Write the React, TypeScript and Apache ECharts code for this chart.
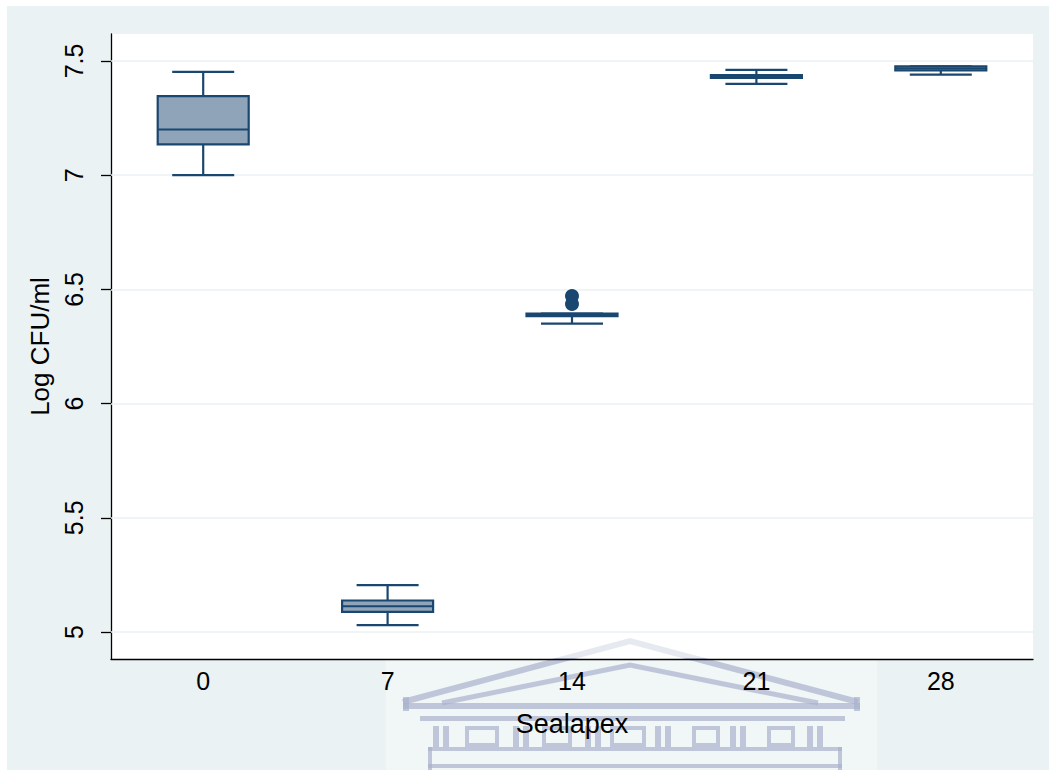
import React, { useEffect, useRef } from "react";
import * as echarts from "echarts";

const days = ["0", "7", "14", "21", "28"];
const lowerWhisker = [7.0, 5.03, 6.35, 7.4, 7.44];
const q1 = [7.135, 5.088, 6.3825, 7.4254, 7.4592];
const median = [7.2, 5.113, 6.388, 7.432, 7.468];
const q3 = [7.346, 5.138, 6.3939, 7.4386, 7.4768];
const upperWhisker = [7.452, 5.205, 6.3939, 7.461, 7.4768];
const outlierDay = ["14", "14"];
const outlierValue = [6.471, 6.436];
const yTicks = [5, 5.5, 6, 6.5, 7, 7.5];

const NAVY = "#1A476F";
const FILL = "#8FA4B8";
const BG = "#EAF2F3";
const WM = "#A9B2CC";
const FONT = "Liberation Sans, Arial, sans-serif";

export default function App() {
  const ref = useRef<HTMLDivElement>(null);
  useEffect(() => {
    if (!ref.current) return;
    const chart = echarts.init(ref.current, null, { renderer: "svg" });

    const boxData = days.map((d, i) => [i, lowerWhisker[i], q1[i], median[i], q3[i], upperWhisker[i]]);
    const outliers = outlierDay.map((d, i) => [days.indexOf(d), outlierValue[i]]);

    const OP = 0.7;
    const wmRect = (x: number, y: number, w: number, h: number) => ({
      type: "rect",
      z: -10,
      silent: true,
      shape: { x, y, width: w, height: h },
      style: { fill: WM, opacity: OP },
    });
    const wmBox = (x: number, y: number, w: number, h: number) => ({
      type: "rect",
      z: -10,
      silent: true,
      shape: { x, y, width: w, height: h },
      style: { fill: "none", stroke: WM, lineWidth: 4, opacity: OP },
    });
    const pairs = [433, 513, 585, 655, 730, 807];
    const boxes: [number, number][] = [
      [467, 30],
      [544, 26],
      [612, 32],
      [694, 24],
      [769, 24],
    ];
    const watermark: any[] = [
      {
        type: "rect",
        z: -11,
        silent: true,
        shape: { x: 386, y: 633, width: 491, height: 137 },
        style: { fill: "rgba(255,255,255,0.35)" },
      },
      {
        type: "polyline",
        z: -10,
        silent: true,
        shape: { points: [[403, 702], [630, 641], [858, 702]] },
        style: { stroke: WM, lineWidth: 6, fill: "none", opacity: OP },
      },
      {
        type: "polyline",
        z: -10,
        silent: true,
        shape: { points: [[442, 703], [630, 665], [818, 703]] },
        style: { stroke: WM, lineWidth: 5, fill: "none", opacity: OP },
      },
      wmRect(403, 703, 457, 6),
      wmRect(403, 697, 6, 14),
      wmRect(854, 697, 6, 14),
      wmRect(420, 716, 425, 5),
      wmRect(428, 747, 414, 4),
      wmRect(428, 747, 4, 23),
      wmRect(838, 747, 4, 23),
      wmRect(428, 764, 414, 4),
      {
        type: "rect",
        z: -9,
        silent: true,
        shape: { x: 386, y: 633, width: 491, height: 25 },
        style: { fill: "rgba(255,255,255,0.6)" },
      },
    ];
    pairs.forEach((p) => {
      watermark.push(wmRect(p, 726, 6, 21));
      watermark.push(wmRect(p + 10, 726, 6, 21));
    });
    boxes.forEach(([x, w]) => watermark.push(wmBox(x, 728, w, 17)));

    const option: any = {
      animation: false,
      backgroundColor: "#ffffff",
      graphic: {
        elements: [
          {
            type: "rect",
            z: -30,
            silent: true,
            shape: { x: 7, y: 6, width: 1042, height: 764 },
            style: { fill: BG },
          },
          {
            type: "rect",
            z: -20,
            silent: true,
            shape: { x: 111, y: 34, width: 922, height: 625 },
            style: { fill: "#ffffff" },
          },
          ...watermark,
        ],
      },
      grid: { left: 111, right: 16, top: 34, bottom: 111, containLabel: false },
      xAxis: {
        type: "category",
        data: days,
        boundaryGap: true,
        axisLine: { show: true, lineStyle: { color: "#000", width: 1.3 } },
        axisTick: { show: false },
        splitLine: { show: false },
        axisLabel: {
          color: "#000",
          fontFamily: FONT,
          fontSize: 25,
          margin: 9,
        },
        name: "Sealapex",
        nameLocation: "middle",
        nameGap: 51,
        nameTextStyle: {
          color: "#000",
          fontFamily: FONT,
          fontSize: 27,
        },
      },
      yAxis: {
        type: "value",
        min: 4.882,
        max: 7.618,
        axisLine: { show: true, lineStyle: { color: "#000", width: 1.3 } },
        axisTick: {
          show: true,
          length: 10,
          customValues: yTicks,
          lineStyle: { color: "#000", width: 1.3 },
        },
        splitLine: { show: false },
        axisLabel: {
          customValues: yTicks,
          rotate: 90,
          color: "#000",
          fontFamily: FONT,
          fontSize: 25,
          margin: 25,
          formatter: (v: number) => String(v),
        },
        name: "Log CFU/ml",
        nameLocation: "middle",
        nameGap: 47,
        nameRotate: 90,
        nameTextStyle: {
          color: "#000",
          fontFamily: FONT,
          fontSize: 26,
        },
      },
      series: [
        {
          type: "line",
          data: [],
          z: 1,
          silent: true,
          markLine: {
            z: 1,
            silent: true,
            symbol: ["none", "none"],
            label: { show: false },
            lineStyle: { color: BG, width: 1.6, type: "solid" },
            emphasis: { disabled: true },
            data: yTicks.map((v) => ({ yAxis: v })),
          },
        },
        {
          type: "custom",
          z: 3,
          data: boxData,
          encode: { x: 0, y: [1, 2, 3, 4, 5] },
          renderItem: (params: any, api: any) => {
            const idx = api.value(0);
            const x = api.coord([idx, 0])[0];
            const yLw = api.coord([idx, api.value(1)])[1];
            const yQ1 = api.coord([idx, api.value(2)])[1];
            const yMed = api.coord([idx, api.value(3)])[1];
            const yQ3 = api.coord([idx, api.value(4)])[1];
            const yUw = api.coord([idx, api.value(5)])[1];
            const bw = 91;
            const cw = 62;
            const ls = { stroke: NAVY, lineWidth: 2.2 };
            return {
              type: "group",
              children: [
                { type: "line", shape: { x1: x, y1: yQ3, x2: x, y2: yUw }, style: ls },
                { type: "line", shape: { x1: x, y1: yQ1, x2: x, y2: yLw }, style: ls },
                { type: "line", shape: { x1: x - cw / 2, y1: yUw, x2: x + cw / 2, y2: yUw }, style: ls },
                { type: "line", shape: { x1: x - cw / 2, y1: yLw, x2: x + cw / 2, y2: yLw }, style: ls },
                {
                  type: "rect",
                  shape: { x: x - bw / 2, y: yQ3, width: bw, height: Math.max(yQ1 - yQ3, 1) },
                  style: { fill: FILL, stroke: NAVY, lineWidth: 2.2 },
                },
                { type: "line", shape: { x1: x - bw / 2, y1: yMed, x2: x + bw / 2, y2: yMed }, style: ls },
              ],
            };
          },
        },
        {
          type: "scatter",
          z: 4,
          data: outliers,
          symbol: "circle",
          symbolSize: 14,
          itemStyle: { color: NAVY, opacity: 1 },
        },
      ],
    };
    chart.setOption(option);
    return () => chart.dispose();
  }, []);
  return <div ref={ref} style={{ position: "absolute", left: 0, top: 0, width: 1049, height: 770 }} />;
}
